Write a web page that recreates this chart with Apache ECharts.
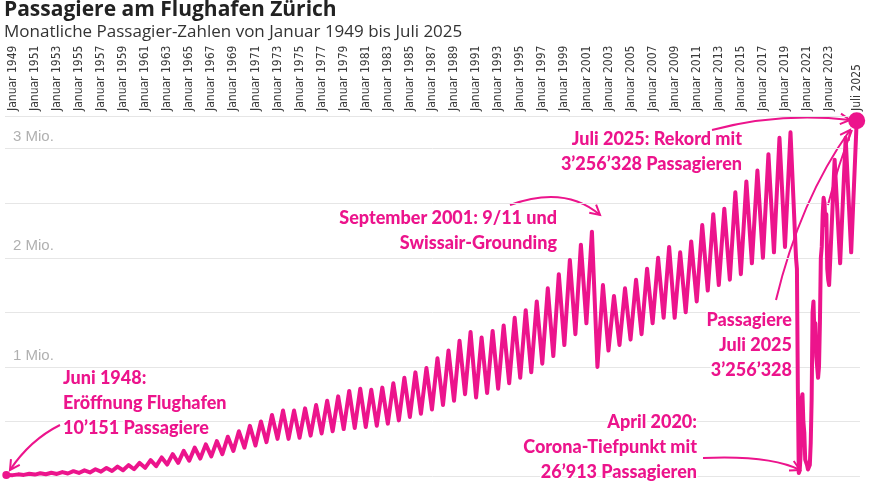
<!DOCTYPE html>
<html lang="de">
<head>
<meta charset="UTF-8">
<title>Passagiere Flughafen Zürich</title>
<script src="https://cdn.jsdelivr.net/npm/echarts@6/dist/echarts.min.js"></script>
<style>html,body{margin:0;background:#fff}#c{width:873px;height:484px}</style>
</head>
<body>
<div id="c"></div>
<script>
// Jahreswerte 1949-2019 (Tausend Passagiere): Tiefpunkt im Januar, Spitze im Juli
const years = [];
for (let y = 1949; y <= 2019; y++) years.push(y);
const janLow = [8,10,13,16,19,23,28,33,40,46,53,62,75,90,105,120,140,160,180,200,230,
  260,280,310,340,340,350,370,390,410,430,440,450,460,480,510,540,570,610,650,690,
  750,720,760,800,850,900,950,1030,1100,1200,1300,1400,1000,1150,1200,1250,1300,1400,
  1450,1450,1500,1600,1700,1750,1800,1850,1950,2000,2050,2100];
const julPeak = [15,20,25,30,36,44,52,62,74,86,100,120,145,170,200,230,260,290,320,360,410,
  460,500,560,600,600,620,650,690,730,780,800,790,810,850,900,950,990,1080,1150,1240,
  1320,1270,1330,1380,1450,1520,1600,1720,1850,1980,2120,2240,1750,1650,1720,1800,1900,2000,
  2100,2050,2150,2300,2400,2450,2600,2700,2800,2950,3100,3150];
// Monatswerte 2020-2022 (Tausend)
const covidMonths = [
  [2000,1900,800,27,50,200,700,750,500,400,150,150],
  [100,60,80,100,300,700,1500,1600,1300,1400,1100,1000],
  [900,1000,1400,2000,2100,2400,2550,2500,2300,2400,1900,1800]
];
const lateYears = [2023, 2024, 2025];
const lateJan = [1750, 1950, 2050];
const lateJul = [2900, 3100, 3256.328];

const data = [[1948 + 5/12, 10.151]];
years.forEach((y, i) => { data.push([y, janLow[i]]); data.push([y + 0.5, julPeak[i]]); });
covidMonths.forEach((row, i) => row.forEach((v, m) => data.push([2020 + i + m/12, v])));
lateYears.forEach((y, i) => { data.push([y, lateJan[i]]); data.push([y + 0.5, lateJul[i]]); });
const series = data.map(d => [d[0], d[1] * 1000]);

const tickYears = [];
for (let y = 1949; y <= 2023; y += 2) tickYears.push(y);
tickYears.push(2025.5);

const pink = '#ec148c';
const font = 'Lato';
const chart = echarts.init(document.getElementById('c'));
function txt(x, y, text, align) {
  return { type: 'text', x: x, y: y, z: 100, style: { text: text, fill: pink, font: '900 18px ' + font,
    align: align || 'right', lineHeight: 25, stroke: '#fff', lineWidth: 3 } };
}
// gebogener Pfeil: Start, Kontrollpunkt, Ende
function arrow(x1, y1, cx, cy, x2, y2, head) {
  const a = Math.atan2(y2 - cy, x2 - cx), h = 11;
  const items = [{ type: 'bezierCurve', shape: { x1: x1, y1: y1, cpx1: cx, cpy1: cy, x2: x2, y2: y2 },
    style: { stroke: pink, fill: null, lineWidth: 2 } }];
  if (head !== false) items.push({ type: 'polyline', shape: { points: [
      [x2 - h * Math.cos(a - 0.5), y2 - h * Math.sin(a - 0.5)], [x2, y2],
      [x2 - h * Math.cos(a + 0.5), y2 - h * Math.sin(a + 0.5)]] },
    style: { stroke: pink, fill: null, lineWidth: 2 } });
  return items;
}
chart.setOption({
  animation: false,
  grid: { left: 5, right: 13, top: 116, bottom: 8 },
  xAxis: {
    type: 'value', position: 'top', min: 1948.3, max: 2025.8,
    splitLine: { show: false }, axisLine: { show: false }, axisTick: { show: false },
    axisLabel: {
      customValues: tickYears, rotate: 90, color: '#3a3a3a',
      fontFamily: '"DejaVu Sans Condensed", "Liberation Sans Narrow", sans-serif',
      fontSize: 12, margin: 5,
      formatter: v => v === 2025.5 ? 'Juli 2025' : 'Januar ' + v
    }
  },
  yAxis: {
    type: 'value', min: 0, max: 3300000, interval: 500000,
    axisLine: { show: false }, axisTick: { show: false },
    splitLine: { lineStyle: { color: '#e6e6e6' } },
    axisLabel: {
      inside: true, verticalAlign: 'bottom', color: '#b0b0b0', fontSize: 15, margin: 0,
      padding: [0, 0, 4, 8],
      formatter: v => (v > 0 && v % 1000000 === 0) ? (v / 1000000) + ' Mio.' : ''
    }
  },
  series: [{
    type: 'line', data: series, showSymbol: false,
    lineStyle: { color: pink, width: 4, join: 'round' },
    markPoint: {
      symbol: 'circle', label: { show: false },
      data: [
        { coord: [2025.5, 3256328], symbolSize: 17, itemStyle: { color: pink } },
        { coord: [1948 + 5/12, 10151], symbolSize: 8, itemStyle: { color: pink } }
      ]
    }
  }],
  graphic: [
    { type: 'text', x: 4, y: 0, style: { text: 'Passagiere am Flughafen Zürich', fill: '#222', font: 'bold 21px "Open Sans"' } },
    { type: 'text', x: 4, y: 24, style: { text: 'Monatliche Passagier-Zahlen von Januar 1949 bis Juli 2025', fill: '#333', font: '17px "Open Sans"' } },
    txt(63, 366, 'Juni 1948:\nEröffnung Flughafen\n10\u2019151 Passagiere', 'left'),
    txt(557, 206, 'September 2001: 9/11 und\nSwissair-Grounding'),
    txt(742, 127, 'Juli 2025: Rekord mit\n3\u2019256\u2019328 Passagieren'),
    txt(792, 308, 'Passagiere\nJuli 2025\n3\u2019256\u2019328'),
    txt(697, 410, 'April 2020:\nCorona-Tiefpunkt mit\n26\u2019913 Passagieren'),
    ...arrow(60, 425, 30, 440, 10, 470),
    ...arrow(510, 205, 565, 185, 600, 215),
    ...arrow(712, 130, 780, 112, 850, 120),
    ...arrow(776, 300, 800, 200, 850, 130),
    ...arrow(828, 205, 838, 165, 852, 130, false),
    ...arrow(703, 458, 770, 455, 800, 470)
  ]
});
</script>
</body>
</html>
